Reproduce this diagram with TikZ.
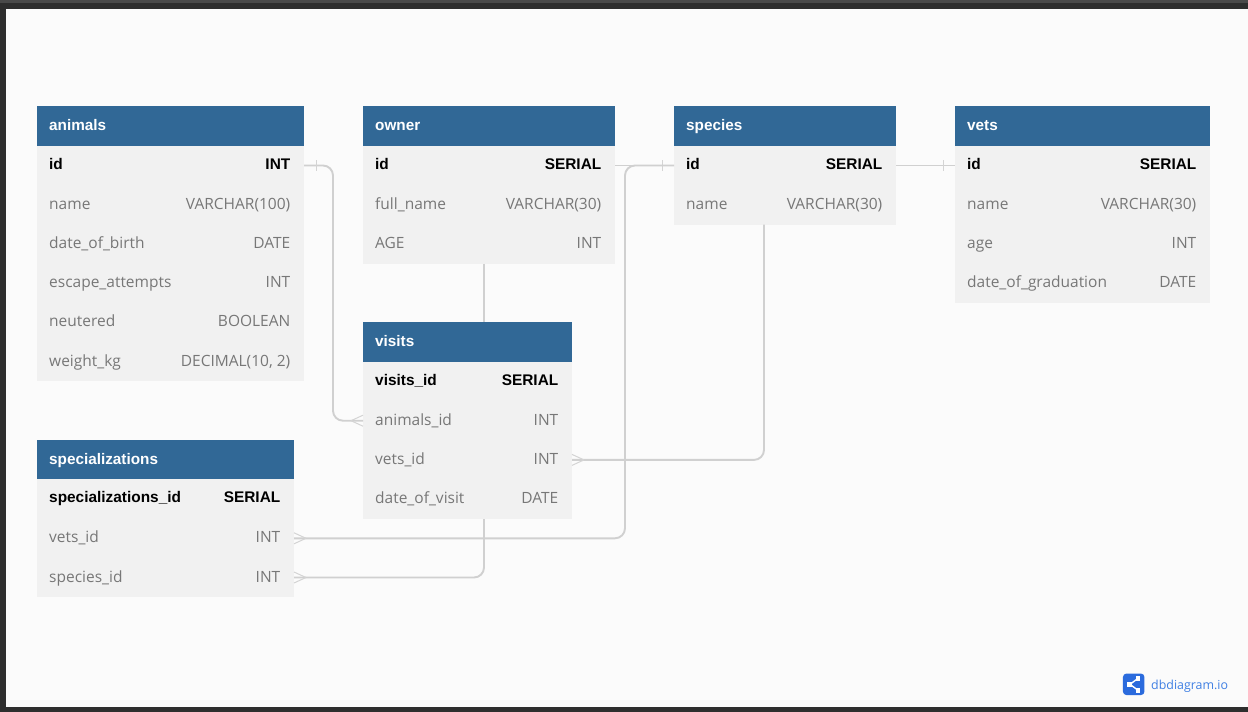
\documentclass[tikz,border=0pt]{standalone}
\usepackage{fontspec}
\setmainfont{Open Sans}
\newfontfamily\boldface{Liberation Sans}[BoldFont={Liberation Sans Bold}]
\definecolor{headblue}{HTML}{316896}
\definecolor{bodygrey}{HTML}{F1F1F1}
\definecolor{textgrey}{HTML}{777777}
\definecolor{linegrey}{HTML}{D0D0D0}
\definecolor{marklight}{HTML}{D4D4D4}
\definecolor{pagebg}{HTML}{FBFBFB}
\definecolor{framedark}{HTML}{2E2E2E}
\definecolor{frametop}{HTML}{4A4A4A}
\definecolor{logoblue}{HTML}{2B6BDD}
\definecolor{logotext}{HTML}{3F7FE3}
\tikzset{
  x=1pt,y=-1pt,
  headbox/.style={fill=headblue,draw=none,inner sep=0,outer sep=0,anchor=north west,minimum height=39.8pt},
  rowbox/.style={fill=bodygrey,draw=none,inner sep=0,outer sep=0,anchor=north west,minimum height=39.8pt},
  headtext/.style={inner sep=0,anchor=base west,text=white,font=\boldface\bfseries\fontsize{15.3}{18}\selectfont},
  keyname/.style={inner sep=0,anchor=base west,yshift=1pt,text=black,font=\boldface\bfseries\fontsize{15.4}{18}\selectfont},
  keytype/.style={inner sep=0,anchor=base east,yshift=1pt,text=black,font=\boldface\bfseries\fontsize{15.4}{18}\selectfont},
  plainname/.style={inner sep=0,anchor=base west,text=textgrey,font=\fontsize{15.5}{18}\selectfont},
  plaintype/.style={inner sep=0,anchor=base east,text=textgrey,font=\fontsize{15.5}{18}\selectfont},
  rel/.style={draw=linegrey,line width=1.9pt,rounded corners=10pt},
  mark line/.style={draw=marklight,line width=1pt},
}
% name, x1, x2, ytop, title, rows (field/type/kind)
\newcommand{\dbtable}[6]{%
  \node[headbox,minimum width={#3-#2}] (#1-head) at (#2,#4) {};
  \node[headtext] (#1-title) at (#2+12,#4+24.4) {#5};
  \foreach \fld/\typ/\knd [count=\i] in {#6} {
    \node[rowbox,minimum width={#3-#2}] (#1-\i) at (#2,{#4+39.6+(\i-1)*39.2}) {};
    \node[\knd name] (#1-\i-name) at (#2+12,{#4+39.6+(\i-1)*39.2+24.4}) {\fld};
    \node[\knd type] (#1-\i-type) at (#3-13.5,{#4+39.6+(\i-1)*39.2+24.4}) {\typ};
  }
}
% crow's foot: point on the table edge, direction sign
\newcommand{\crowfoot}[2]{%
  \draw[mark line] ([yshift=5.5pt]#1) -- ([xshift=#2*12pt]#1);
  \draw[mark line] ([yshift=-5.5pt]#1) -- ([xshift=#2*12pt]#1);
}
\newcommand{\onebar}[2]{%
  \draw[mark line] ([xshift=#2*12pt,yshift=5.5pt]#1) -- ([xshift=#2*12pt,yshift=-5.5pt]#1);
}
\begin{document}
\begin{tikzpicture}
\useasboundingbox (0,0) rectangle (1248,712);
\fill[framedark] (0,0) rectangle (1248,712);
\fill[frametop] (0,0) rectangle (1248,2.5);
\fill[pagebg] (6,9) rectangle (1248,707);

\dbtable{animals}{37}{304}{106}{animals}{id/INT/key,name/VARCHAR(100)/plain,date\_of\_birth/DATE/plain,escape\_attempts/INT/plain,neutered/BOOLEAN/plain,weight\_kg/{DECIMAL(10, 2)}/plain}
\dbtable{owner}{363}{615}{106}{owner}{id/SERIAL/key,full\_name/VARCHAR(30)/plain,AGE/INT/plain}
\dbtable{species}{674}{896}{106}{species}{id/SERIAL/key,name/VARCHAR(30)/plain}
\dbtable{vets}{955}{1210}{106}{vets}{id/SERIAL/key,name/VARCHAR(30)/plain,age/INT/plain,date\_of\_graduation/DATE/plain}
\dbtable{visits}{363}{572}{322}{visits}{visits\_id/SERIAL/key,animals\_id/INT/plain,vets\_id/INT/plain,date\_of\_visit/DATE/plain}
\dbtable{specs}{37}{294}{439.6}{specializations}{specializations\_id/SERIAL/key,vets\_id/INT/plain,species\_id/INT/plain}

\coordinate (busA) at (333,0);
\coordinate (busB) at (625,0);
\coordinate (busC) at (764,0);
\coordinate (busD) at (484,0);

% animals.id -- visits.animals_id
\draw[rel] (animals-1.east) -- (busA |- animals-1.east) -- (busA |- visits-2.west) -- (visits-2.west);
\onebar{animals-1.east}{1}
\crowfoot{visits-2.west}{-1}
% owner.id -- species.id
\draw[rel] (owner-1.east) -- (species-1.west);
\onebar{species-1.west}{-1}
% species.id -- specializations.vets_id
\draw[rel] (species-1.west) -- (busB |- species-1.west) -- (busB |- specs-2.east) -- (specs-2.east);
\crowfoot{specs-2.east}{1}
% species.id -- vets.id
\draw[rel] (species-1.east) -- (vets-1.west);
\onebar{vets-1.west}{-1}
% species -- visits.vets_id
\draw[rel] (busC |- species-2.south) -- (busC |- visits-3.east) -- (visits-3.east);
\crowfoot{visits-3.east}{1}
% owner -- visits
\draw[rel] (busD |- owner-3.south) -- (busD |- visits-head.north);
% visits -- specializations.species_id
\draw[rel] (busD |- visits-4.south) -- (busD |- specs-3.east) -- (specs-3.east);
\crowfoot{specs-3.east}{1}

% logo
\node[fill=logoblue,draw=none,rounded corners=3.5pt,minimum size=21.5pt,inner sep=0,outer sep=0] (logo) at (1133.7,684.3) {};
\draw[white,line width=1.4pt] (1130,684.3) -- (1138,678.3) (1130,684.3) -- (1138,690.3);
\fill[white] (1127.3,682) rectangle (1132,686.6);
\fill[white] (1135.6,676) rectangle (1140.4,680.6);
\fill[white] (1135.6,688) rectangle (1140.4,692.6);
\node[inner sep=0,anchor=base west,text=logotext,font=\fontsize{12.4}{15}\selectfont] (logotext) at (1151,689) {dbdiagram.io};
\end{tikzpicture}
\end{document}
